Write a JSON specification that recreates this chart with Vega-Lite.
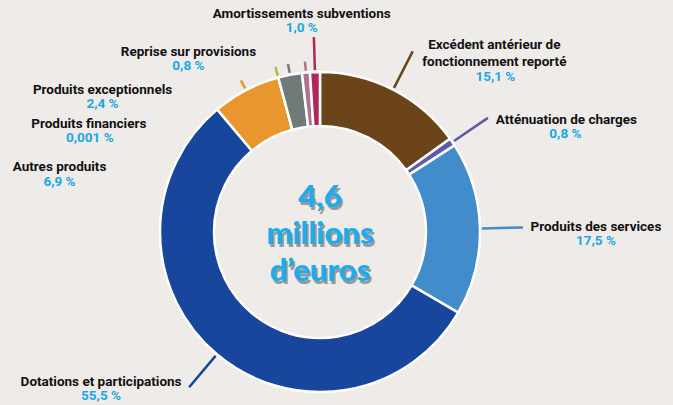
{
  "$schema": "https://vega.github.io/schema/vega-lite/v6.json",
  "autosize": {"type": "none"},
  "width": 640,
  "height": 346,
  "padding": {"left": 0, "top": 59, "right": 33, "bottom": 0},
  "background": "#EEEBE9",
  "config": {"view": {"stroke": null}},
  "data": {"values": [
    {"idx": 1, "category": "Excédent antérieur de fonctionnement reporté", "value": 15.1, "pct": "15,1 %"},
    {"idx": 2, "category": "Atténuation de charges", "value": 0.8, "pct": "0,8 %"},
    {"idx": 3, "category": "Produits des services", "value": 17.5, "pct": "17,5 %"},
    {"idx": 4, "category": "Dotations et participations", "value": 55.5, "pct": "55,5 %"},
    {"idx": 5, "category": "Autres produits", "value": 6.9, "pct": "6,9 %"},
    {"idx": 6, "category": "Produits financiers", "value": 0.001, "pct": "0,001 %"},
    {"idx": 7, "category": "Produits exceptionnels", "value": 2.4, "pct": "2,4 %"},
    {"idx": 8, "category": "Reprise sur provisions", "value": 0.8, "pct": "0,8 %"},
    {"idx": 9, "category": "Amortissements subventions", "value": 1.0, "pct": "1,0 %"}
  ]},
  "layer": [
    {
      "transform": [
        {"window": [{"op": "sum", "field": "value", "as": "cum"}], "sort": [{"field": "idx", "order": "ascending"}], "frame": [null, 0]},
        {"calculate": "datum.cum - datum.value", "as": "start"},
        {"calculate": "datum.cum - datum.value / 2", "as": "mid"}
      ],
      "encoding": {
        "theta": {"field": "mid", "type": "quantitative", "scale": {"domain": [0, 100.001]}},
        "color": {
          "field": "category", "type": "nominal", "legend": null,
          "scale": {
            "domain": ["Excédent antérieur de fonctionnement reporté", "Atténuation de charges", "Produits des services", "Dotations et participations", "Autres produits", "Produits financiers", "Produits exceptionnels", "Reprise sur provisions", "Amortissements subventions"],
            "range": ["#6B4519", "#5B5BAA", "#428CCB", "#17469C", "#E8962D", "#B3BB37", "#707A78", "#B47090", "#B0275C"]
          }
        }
      },
      "layer": [
        {
          "mark": {"type": "arc", "innerRadius": 106, "outerRadius": 160, "stroke": "#FFFFFF", "strokeWidth": 2.5},
          "encoding": {
            "theta": {"field": "start", "type": "quantitative", "scale": {"domain": [0, 100.001]}},
            "theta2": {"field": "cum"}
          }
        },
        {
          "transform": [{"filter": {"field": "category", "oneOf": ["Excédent antérieur de fonctionnement reporté", "Atténuation de charges", "Produits des services", "Dotations et participations"]}}],
          "mark": {"type": "arc", "filled": false, "innerRadius": 162, "outerRadius": 203, "strokeWidth": 2.5, "strokeCap": "round"},
          "encoding": {"theta2": {"field": "mid"}}
        },
        {
          "transform": [{"filter": {"field": "category", "equal": "Amortissements subventions"}}],
          "mark": {"type": "arc", "filled": false, "innerRadius": 162, "outerRadius": 195, "strokeWidth": 2.5, "strokeCap": "round"},
          "encoding": {"theta2": {"field": "mid"}}
        },
        {
          "transform": [{"filter": {"field": "category", "oneOf": ["Autres produits", "Produits financiers", "Produits exceptionnels", "Reprise sur provisions"]}}],
          "mark": {"type": "arc", "filled": false, "innerRadius": 162, "outerRadius": 171, "strokeWidth": 2.5, "strokeCap": "round"},
          "encoding": {"theta2": {"field": "mid"}}
        },
        {
          "transform": [
            {"filter": {"field": "category", "equal": "Excédent antérieur de fonctionnement reporté"}},
            {"calculate": "[substring(datum.category, 0, 21), substring(datum.category, 22)]", "as": "lines"}
          ],
          "layer": [
            {"mark": {"type": "text", "radius": 200, "dx": 83, "dy": -9, "lineHeight": 17, "font": "Roboto", "fontWeight": "bold", "fontSize": 13.5, "fill": "#111111", "baseline": "middle"}, "encoding": {"text": {"field": "lines"}}},
            {"mark": {"type": "text", "radius": 200, "dx": 84, "dy": 23, "font": "Roboto", "fontWeight": "bold", "fontSize": 13.5, "fill": "#1AA8E6", "baseline": "middle"}, "encoding": {"text": {"field": "pct"}}}
          ]
        },
        {
          "transform": [{"filter": {"field": "category", "equal": "Atténuation de charges"}}],
          "layer": [
            {"mark": {"type": "text", "radius": 200, "dx": 81, "dy": 0, "font": "Roboto", "fontWeight": "bold", "fontSize": 13.5, "fill": "#111111", "baseline": "middle"}, "encoding": {"text": {"field": "category"}}},
            {"mark": {"type": "text", "radius": 200, "dx": 80, "dy": 14, "font": "Roboto", "fontWeight": "bold", "fontSize": 13.5, "fill": "#1AA8E6", "baseline": "middle"}, "encoding": {"text": {"field": "pct"}}}
          ]
        },
        {
          "transform": [{"filter": {"field": "category", "equal": "Produits des services"}}],
          "layer": [
            {"mark": {"type": "text", "radius": 200, "dx": 76, "dy": -1, "font": "Roboto", "fontWeight": "bold", "fontSize": 13.5, "fill": "#111111", "baseline": "middle"}, "encoding": {"text": {"field": "category"}}},
            {"mark": {"type": "text", "radius": 200, "dx": 76, "dy": 13, "font": "Roboto", "fontWeight": "bold", "fontSize": 13.5, "fill": "#1AA8E6", "baseline": "middle"}, "encoding": {"text": {"field": "pct"}}}
          ]
        },
        {
          "transform": [{"filter": {"field": "category", "equal": "Dotations et participations"}}],
          "layer": [
            {"mark": {"type": "text", "radius": 200, "dx": -90, "dy": -3, "font": "Roboto", "fontWeight": "bold", "fontSize": 13.5, "fill": "#111111", "baseline": "middle"}, "encoding": {"text": {"field": "category"}}},
            {"mark": {"type": "text", "radius": 200, "dx": -90, "dy": 11, "font": "Roboto", "fontWeight": "bold", "fontSize": 13.5, "fill": "#1AA8E6", "baseline": "middle"}, "encoding": {"text": {"field": "pct"}}}
          ]
        },
        {
          "transform": [{"filter": {"field": "category", "equal": "Autres produits"}}],
          "layer": [
            {"mark": {"type": "text", "radius": 200, "dx": -168, "dy": 112, "font": "Roboto", "fontWeight": "bold", "fontSize": 13.5, "fill": "#111111", "baseline": "middle"}, "encoding": {"text": {"field": "category"}}},
            {"mark": {"type": "text", "radius": 200, "dx": -168, "dy": 127, "font": "Roboto", "fontWeight": "bold", "fontSize": 13.5, "fill": "#1AA8E6", "baseline": "middle"}, "encoding": {"text": {"field": "pct"}}}
          ]
        },
        {
          "transform": [{"filter": {"field": "category", "equal": "Produits financiers"}}],
          "layer": [
            {"mark": {"type": "text", "radius": 200, "dx": -179, "dy": 85, "font": "Roboto", "fontWeight": "bold", "fontSize": 13.5, "fill": "#111111", "baseline": "middle"}, "encoding": {"text": {"field": "category"}}},
            {"mark": {"type": "text", "radius": 200, "dx": -178, "dy": 99, "font": "Roboto", "fontWeight": "bold", "fontSize": 13.5, "fill": "#1AA8E6", "baseline": "middle"}, "encoding": {"text": {"field": "pct"}}}
          ]
        },
        {
          "transform": [{"filter": {"field": "category", "equal": "Produits exceptionnels"}}],
          "layer": [
            {"mark": {"type": "text", "radius": 200, "dx": -180, "dy": 54, "font": "Roboto", "fontWeight": "bold", "fontSize": 13.5, "fill": "#111111", "baseline": "middle"}, "encoding": {"text": {"field": "category"}}},
            {"mark": {"type": "text", "radius": 200, "dx": -180, "dy": 68, "font": "Roboto", "fontWeight": "bold", "fontSize": 13.5, "fill": "#1AA8E6", "baseline": "middle"}, "encoding": {"text": {"field": "pct"}}}
          ]
        },
        {
          "transform": [{"filter": {"field": "category", "equal": "Reprise sur provisions"}}],
          "layer": [
            {"mark": {"type": "text", "radius": 200, "dx": -114, "dy": 19, "font": "Roboto", "fontWeight": "bold", "fontSize": 13.5, "fill": "#111111", "baseline": "middle"}, "encoding": {"text": {"field": "category"}}},
            {"mark": {"type": "text", "radius": 200, "dx": -114, "dy": 33, "font": "Roboto", "fontWeight": "bold", "fontSize": 13.5, "fill": "#1AA8E6", "baseline": "middle"}, "encoding": {"text": {"field": "pct"}}}
          ]
        },
        {
          "transform": [{"filter": {"field": "category", "equal": "Amortissements subventions"}}],
          "layer": [
            {"mark": {"type": "text", "radius": 200, "dx": -12, "dy": -18, "font": "Roboto", "fontWeight": "bold", "fontSize": 13.5, "fill": "#111111", "baseline": "middle"}, "encoding": {"text": {"field": "category"}}},
            {"mark": {"type": "text", "radius": 200, "dx": -12, "dy": -4, "font": "Roboto", "fontWeight": "bold", "fontSize": 13.5, "fill": "#1AA8E6", "baseline": "middle"}, "encoding": {"text": {"field": "pct"}}}
          ]
        }
      ]
    },
    {
      "data": {"values": [{"lines": ["4,6", "millions", "d’euros"]}]},
      "layer": [
        {"mark": {"type": "text", "dx": 2, "dy": -31, "lineHeight": 37, "font": "Lato", "fontWeight": 900, "fontSize": 31, "fill": "#9A9A9A", "baseline": "middle", "align": "center"}, "encoding": {"text": {"field": "lines"}}},
        {"mark": {"type": "text", "dx": 0, "dy": -34, "lineHeight": 37, "font": "Lato", "fontWeight": 900, "fontSize": 31, "fill": "#1DADEE", "baseline": "middle", "align": "center"}, "encoding": {"text": {"field": "lines"}}}
      ]
    }
  ]
}
